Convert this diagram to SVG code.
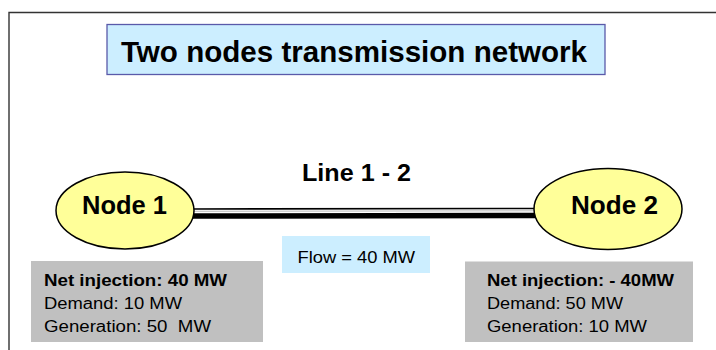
<svg xmlns="http://www.w3.org/2000/svg" width="716" height="350" viewBox="0 0 716 350">
<style>
text{font-family:"Liberation Sans",Arial,sans-serif;fill:#000;white-space:pre}
.b{font-weight:bold}
.node{fill:#FFFF99;stroke:#000;stroke-width:1.5}
.info{fill:#C0C0C0}
.t16{font-size:16px}
</style>
<rect width="716" height="350" fill="#fff"/>
<path d="M9,350 V12.5 H716" fill="none" stroke="#333" stroke-width="1.4"/>
<g id="title">
<rect x="107" y="24.5" width="498" height="50" fill="#CCEEFF" stroke="#5A5AAA" stroke-width="1.3"/>
<text class="b" x="121" y="62" font-size="30" textLength="466" lengthAdjust="spacingAndGlyphs">Two nodes transmission network</text>
</g>
<g id="connectors">
<line x1="192" y1="209" x2="537" y2="208.5" stroke="#000" stroke-width="1.6"/>
<line x1="192" y1="211.3" x2="537" y2="210.8" stroke="#bbb" stroke-width="1"/>
<line x1="192" y1="216" x2="537" y2="215.5" stroke="#000" stroke-width="5.5"/>
</g>
<g id="line-label">
<text class="b" x="302" y="181" font-size="23" textLength="109" lengthAdjust="spacingAndGlyphs">Line 1 - 2</text>
</g>
<g id="node1">
<ellipse class="node" cx="125" cy="210.5" rx="69" ry="38.5"/>
<text class="b" x="82" y="214" font-size="25" textLength="85" lengthAdjust="spacingAndGlyphs">Node 1</text>
</g>
<g id="node2">
<ellipse class="node" cx="608" cy="209" rx="74" ry="40.5"/>
<text class="b" x="571" y="214" font-size="25" textLength="87" lengthAdjust="spacingAndGlyphs">Node 2</text>
</g>
<g id="flow">
<rect x="282" y="236" width="148" height="37" fill="#CCEEFF"/>
<text x="297.5" y="263" font-size="17" textLength="117.5" lengthAdjust="spacingAndGlyphs">Flow = 40 MW</text>
</g>
<g id="info1">
<rect class="info" x="31" y="261" width="232" height="81"/>
<text class="b t16" x="44" y="286" textLength="183" lengthAdjust="spacingAndGlyphs">Net injection: 40 MW</text>
<text class="t16" x="44" y="309" textLength="138" lengthAdjust="spacingAndGlyphs">Demand: 10 MW</text>
<text class="t16" x="44" y="332" textLength="167" lengthAdjust="spacingAndGlyphs">Generation: 50  MW</text>
</g>
<g id="info2">
<rect class="info" x="465" y="261.5" width="228" height="80.5"/>
<text class="b t16" x="487" y="286" textLength="187" lengthAdjust="spacingAndGlyphs">Net injection: - 40MW</text>
<text class="t16" x="487" y="309" textLength="136" lengthAdjust="spacingAndGlyphs">Demand: 50 MW</text>
<text class="t16" x="487" y="332" textLength="160" lengthAdjust="spacingAndGlyphs">Generation: 10 MW</text>
</g>
</svg>
